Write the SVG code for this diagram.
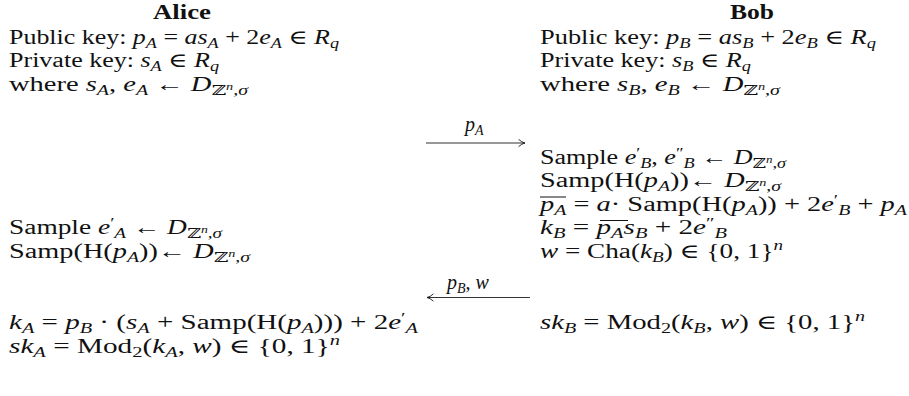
<svg xmlns="http://www.w3.org/2000/svg" width="909" height="396" viewBox="0 0 909 396">
<defs>
<style>
.m{font-family:"Liberation Serif","DejaVu Serif",serif;font-size:20px;fill:#111}
.i{font-style:italic}
.sb{font-size:14px}
.ss{font-size:10px}
.hd{font-weight:bold}
.conn{stroke:#333;stroke-width:1.1;fill:none}
.ovl{stroke:#111;stroke-width:1}
</style>
<marker id="tip" viewBox="0 0 10 10" refX="9" refY="5" markerUnits="userSpaceOnUse" markerWidth="8" markerHeight="10" orient="auto">
<path d="M1,0.5 Q5,4.2 9,5 Q5,5.8 1,9.5" fill="none" stroke="#111" stroke-width="1.1"/>
</marker>
</defs>
<rect width="909" height="396" fill="#fff"/>

<g id="alice">
<text class="m hd" x="153" y="18.5" textLength="58" lengthAdjust="spacingAndGlyphs">Alice</text>
<text class="m" x="9" y="43.5" textLength="330" lengthAdjust="spacingAndGlyphs">Public key: <tspan class="i">p</tspan><tspan class="sb i" dy="4">A</tspan><tspan dy="-4"> = </tspan><tspan class="i">as</tspan><tspan class="sb i" dy="4">A</tspan><tspan dy="-4"> + 2</tspan><tspan class="i">e</tspan><tspan class="sb i" dy="4">A</tspan><tspan dy="-4"> ∈ </tspan><tspan class="i">R</tspan><tspan class="sb i" dy="4">q</tspan></text>
<text class="m" x="9" y="67" textLength="210" lengthAdjust="spacingAndGlyphs">Private key: <tspan class="i">s</tspan><tspan class="sb i" dy="4">A</tspan><tspan dy="-4"> ∈ </tspan><tspan class="i">R</tspan><tspan class="sb i" dy="4">q</tspan></text>
<text class="m" x="9" y="90.5" textLength="239" lengthAdjust="spacingAndGlyphs">where <tspan class="i">s</tspan><tspan class="sb i" dy="4">A</tspan><tspan dy="-4">, </tspan><tspan class="i">e</tspan><tspan class="sb i" dy="4">A</tspan><tspan dy="-4"> ← </tspan><tspan class="i">D</tspan><tspan class="sb" dy="4">ℤ</tspan><tspan class="ss i" dy="-5">n</tspan><tspan class="sb" dy="5">,</tspan><tspan class="sb i">σ</tspan></text>
<text class="m" x="9" y="234" textLength="213" lengthAdjust="spacingAndGlyphs">Sample <tspan class="i">e</tspan><tspan class="sb" dy="-6">′</tspan><tspan class="sb i" dy="10">A</tspan><tspan dy="-4"> ← </tspan><tspan class="i">D</tspan><tspan class="sb" dy="4">ℤ</tspan><tspan class="ss i" dy="-5">n</tspan><tspan class="sb" dy="5">,</tspan><tspan class="sb i">σ</tspan></text>
<text class="m" x="9" y="257.5" textLength="241" lengthAdjust="spacingAndGlyphs">Samp(H(<tspan class="i">p</tspan><tspan class="sb i" dy="4">A</tspan><tspan dy="-4">))← </tspan><tspan class="i">D</tspan><tspan class="sb" dy="4">ℤ</tspan><tspan class="ss i" dy="-5">n</tspan><tspan class="sb" dy="5">,</tspan><tspan class="sb i">σ</tspan></text>
<text class="m" x="9" y="329" textLength="409" lengthAdjust="spacingAndGlyphs"><tspan class="i">k</tspan><tspan class="sb i" dy="4">A</tspan><tspan dy="-4"> = </tspan><tspan class="i">p</tspan><tspan class="sb i" dy="4">B</tspan><tspan dy="-4"> · (</tspan><tspan class="i">s</tspan><tspan class="sb i" dy="4">A</tspan><tspan dy="-4"> + Samp(H(</tspan><tspan class="i">p</tspan><tspan class="sb i" dy="4">A</tspan><tspan dy="-4">))) + 2</tspan><tspan class="i">e</tspan><tspan class="sb" dy="-6">′</tspan><tspan class="sb i" dy="10">A</tspan></text>
<text class="m" x="9" y="352.5" textLength="331" lengthAdjust="spacingAndGlyphs"><tspan class="i">sk</tspan><tspan class="sb i" dy="4">A</tspan><tspan dy="-4"> = Mod</tspan><tspan class="sb" dy="4">2</tspan><tspan dy="-4">(</tspan><tspan class="i">k</tspan><tspan class="sb i" dy="4">A</tspan><tspan dy="-4">, </tspan><tspan class="i">w</tspan><tspan>) ∈ {0, 1}</tspan><tspan class="sb i" dy="-8">n</tspan></text>
</g>

<g id="bob">
<text class="m hd" x="730" y="18.5" textLength="44" lengthAdjust="spacingAndGlyphs">Bob</text>
<text class="m" x="540" y="43.5" textLength="336" lengthAdjust="spacingAndGlyphs">Public key: <tspan class="i">p</tspan><tspan class="sb i" dy="4">B</tspan><tspan dy="-4"> = </tspan><tspan class="i">as</tspan><tspan class="sb i" dy="4">B</tspan><tspan dy="-4"> + 2</tspan><tspan class="i">e</tspan><tspan class="sb i" dy="4">B</tspan><tspan dy="-4"> ∈ </tspan><tspan class="i">R</tspan><tspan class="sb i" dy="4">q</tspan></text>
<text class="m" x="540" y="67" textLength="211" lengthAdjust="spacingAndGlyphs">Private key: <tspan class="i">s</tspan><tspan class="sb i" dy="4">B</tspan><tspan dy="-4"> ∈ </tspan><tspan class="i">R</tspan><tspan class="sb i" dy="4">q</tspan></text>
<text class="m" x="540" y="90.5" textLength="240" lengthAdjust="spacingAndGlyphs">where <tspan class="i">s</tspan><tspan class="sb i" dy="4">B</tspan><tspan dy="-4">, </tspan><tspan class="i">e</tspan><tspan class="sb i" dy="4">B</tspan><tspan dy="-4"> ← </tspan><tspan class="i">D</tspan><tspan class="sb" dy="4">ℤ</tspan><tspan class="ss i" dy="-5">n</tspan><tspan class="sb" dy="5">,</tspan><tspan class="sb i">σ</tspan></text>
<text class="m" x="540" y="163.5" textLength="246" lengthAdjust="spacingAndGlyphs">Sample <tspan class="i">e</tspan><tspan class="sb" dy="-6">′</tspan><tspan class="sb i" dy="10">B</tspan><tspan dy="-4">, </tspan><tspan class="i">e</tspan><tspan class="sb" dy="-6">″</tspan><tspan class="sb i" dy="10">B</tspan><tspan dy="-4"> ← </tspan><tspan class="i">D</tspan><tspan class="sb" dy="4">ℤ</tspan><tspan class="ss i" dy="-5">n</tspan><tspan class="sb" dy="5">,</tspan><tspan class="sb i">σ</tspan></text>
<text class="m" x="540" y="187" textLength="241" lengthAdjust="spacingAndGlyphs">Samp(H(<tspan class="i">p</tspan><tspan class="sb i" dy="4">A</tspan><tspan dy="-4">))← </tspan><tspan class="i">D</tspan><tspan class="sb" dy="4">ℤ</tspan><tspan class="ss i" dy="-5">n</tspan><tspan class="sb" dy="5">,</tspan><tspan class="sb i">σ</tspan></text>
<text class="m" x="540" y="210.5" textLength="367" lengthAdjust="spacingAndGlyphs"><tspan class="i">p</tspan><tspan class="sb i" dy="4">A</tspan><tspan dy="-4"> = </tspan><tspan class="i">a</tspan><tspan>· Samp(H(</tspan><tspan class="i">p</tspan><tspan class="sb i" dy="4">A</tspan><tspan dy="-4">)) + 2</tspan><tspan class="i">e</tspan><tspan class="sb" dy="-6">′</tspan><tspan class="sb i" dy="10">B</tspan><tspan dy="-4"> + </tspan><tspan class="i">p</tspan><tspan class="sb i" dy="4">A</tspan></text>
<line class="ovl" x1="540" y1="197" x2="566" y2="197"/>
<text class="m" x="540" y="234" textLength="187" lengthAdjust="spacingAndGlyphs"><tspan class="i">k</tspan><tspan class="sb i" dy="4">B</tspan><tspan dy="-4"> = </tspan><tspan class="i">p</tspan><tspan class="sb i" dy="4">A</tspan><tspan class="i" dy="-4">s</tspan><tspan class="sb i" dy="4">B</tspan><tspan dy="-4"> + 2</tspan><tspan class="i">e</tspan><tspan class="sb" dy="-6">″</tspan><tspan class="sb i" dy="10">B</tspan></text>
<line class="ovl" x1="600" y1="220.5" x2="628" y2="220.5"/>
<text class="m" x="540" y="257.5" textLength="243" lengthAdjust="spacingAndGlyphs"><tspan class="i">w</tspan><tspan> = Cha(</tspan><tspan class="i">k</tspan><tspan class="sb i" dy="4">B</tspan><tspan dy="-4">) ∈ {0, 1}</tspan><tspan class="sb i" dy="-8">n</tspan></text>
<text class="m" x="540" y="329" textLength="325" lengthAdjust="spacingAndGlyphs"><tspan class="i">sk</tspan><tspan class="sb i" dy="4">B</tspan><tspan dy="-4"> = Mod</tspan><tspan class="sb" dy="4">2</tspan><tspan dy="-4">(</tspan><tspan class="i">k</tspan><tspan class="sb i" dy="4">B</tspan><tspan dy="-4">, </tspan><tspan class="i">w</tspan><tspan>) ∈ {0, 1}</tspan><tspan class="sb i" dy="-8">n</tspan></text>
</g>

<g id="connectors">
<line class="conn" x1="426" y1="143" x2="525" y2="143" marker-end="url(#tip)"/>
<text class="m" x="465" y="131"><tspan class="i">p</tspan><tspan class="sb i" dy="4">A</tspan></text>
<line class="conn" x1="530" y1="297.5" x2="427" y2="297.5" marker-end="url(#tip)"/>
<text class="m" x="447" y="289"><tspan class="i">p</tspan><tspan class="sb i" dy="4">B</tspan><tspan dy="-4">, </tspan><tspan class="i">w</tspan></text>
</g>
</svg>
